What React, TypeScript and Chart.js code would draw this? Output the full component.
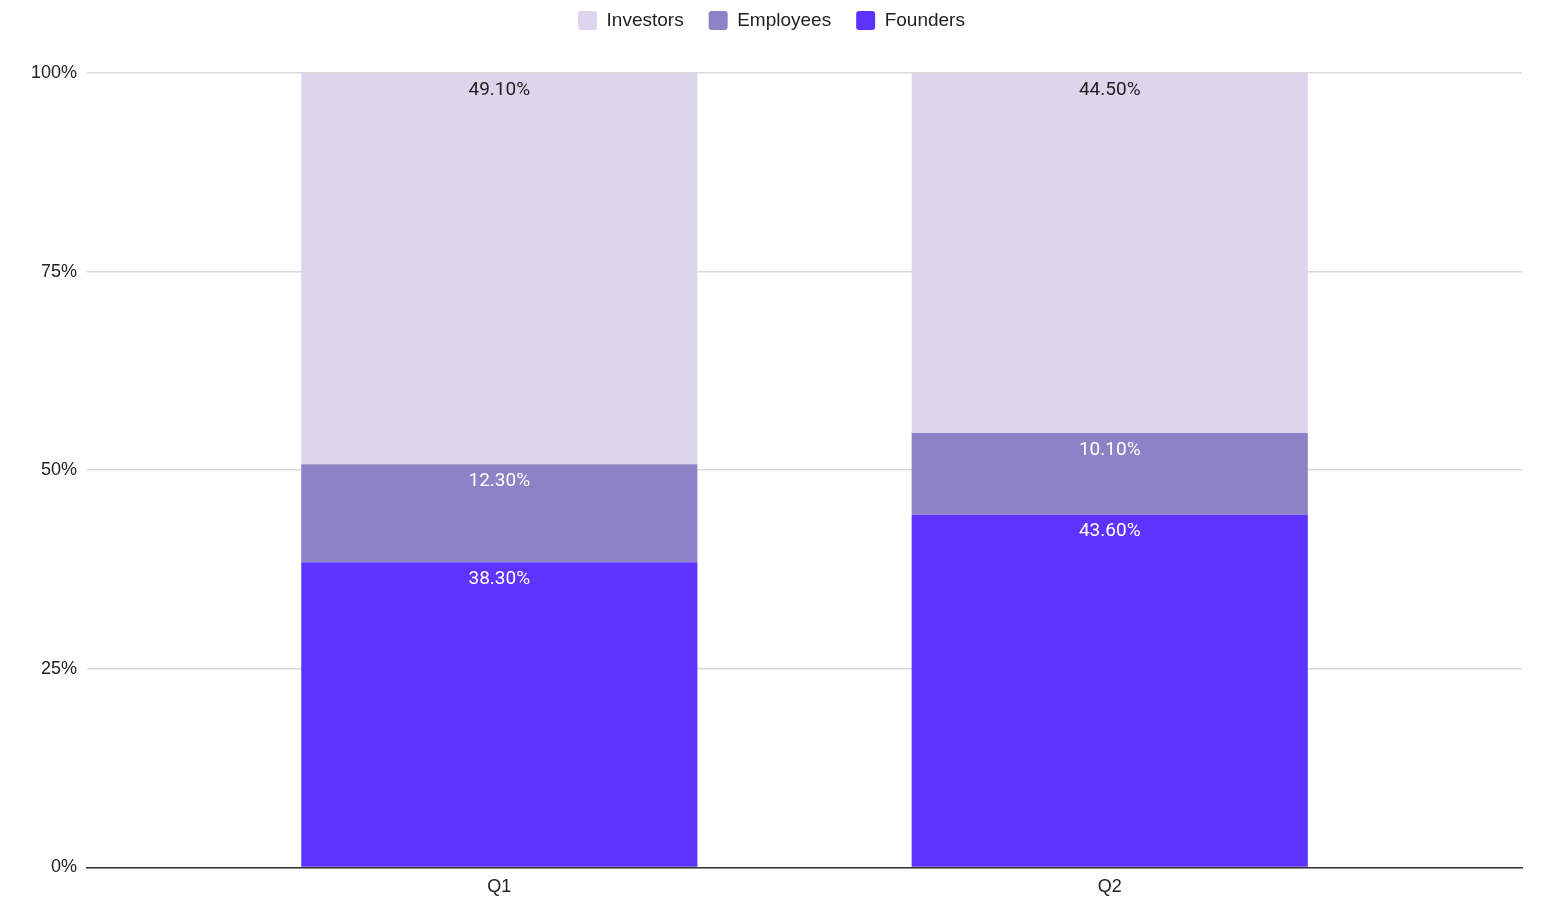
import React, { useEffect, useRef } from 'react'
import { Chart, registerables } from "chart.js";

Chart.register(...registerables);

const categories = ["Q1", "Q2"];
const founders = [38.3, 43.6];
const employees = [12.3, 10.1];
const investors = [49.1, 44.5];
const yTicks = [0, 25, 50, 75, 100];

const seriesNames = ["Founders", "Employees", "Investors"];
const seriesValues = [founders, employees, investors];
const seriesColors = ["#5f33ff", "#8e82c6", "#dcd5ec"];
const labelColors = ["#ffffff", "#ffffff", "#222222"];

const totals = categories.map((_, i) => seriesValues.reduce((s, v) => s + v[i], 0));

const axisFont = { family: "'Liberation Sans', Arial, sans-serif", size: 18 };
const legendFont = { family: "'Liberation Sans', Arial, sans-serif", size: 19 };

// labels at the top of each segment, showing the raw share
const segmentLabels = {
    id: "segmentLabels",
    afterDatasetsDraw(chart: Chart) {
        const ctx = chart.ctx;
        ctx.save();
        ctx.font = "19px Roboto, sans-serif";
        ctx.textAlign = "center";
        ctx.textBaseline = "middle";
        chart.data.datasets.forEach((ds: any, di: number) => {
            const meta = chart.getDatasetMeta(di);
            meta.data.forEach((bar: any, i: number) => {
                ctx.fillStyle = labelColors[di];
                ctx.fillText(ds.rawValues[i].toFixed(2) + "%", bar.x, bar.y + 17);
            });
        });
        ctx.restore();
    },
};

// push the plot area down below the legend
const legendSpace = {
    id: "legendSpace",
    beforeInit(chart: any) {
        const fit = chart.legend.fit;
        chart.legend.fit = function () {
            fit.bind(chart.legend)();
            this.height += 33;
        };
    },
};

const StackedShare: React.FC = () => {
    const chartRef = useRef<HTMLCanvasElement | null>(null);
    const chartInstance = useRef<Chart | null>(null);

    useEffect(() => {
        const ctx = chartRef.current?.getContext("2d");
        if (!ctx) return;

        chartInstance.current = new Chart(ctx, {
            type: "bar",
            data: {
                datasets: seriesNames.map((name, di) => ({
                    label: name,
                    rawValues: seriesValues[di],
                    data: categories.map((_, i) => ({ x: i, y: (seriesValues[di][i] / totals[i]) * 100 })),
                    backgroundColor: seriesColors[di],
                    categoryPercentage: 1,
                    barPercentage: 0.649,
                })) as any,
            },
            options: {
                animation: false,
                responsive: true,
                maintainAspectRatio: false,
                layout: { padding: { top: -14, right: 30, bottom: 19, left: 21 } },
                plugins: {
                    legend: {
                        position: "top",
                        reverse: true,
                        labels: {
                            boxWidth: 19,
                            boxHeight: 19,
                            useBorderRadius: true,
                            borderRadius: 3,
                            padding: 25,
                            color: "#222",
                            font: legendFont,
                        },
                    },
                    tooltip: { enabled: false },
                },
                scales: {
                    x: {
                        type: "linear",
                        stacked: true,
                        offset: false,
                        min: -0.6754,
                        max: categories.length - 1 + 0.6754,
                        afterBuildTicks: (scale: any) => {
                            scale.ticks = categories.map((_, i) => ({ value: i }));
                        },
                        ticks: {
                            callback: (value: any) => categories[value] ?? "",
                            color: "#222",
                            font: axisFont,
                            padding: 1,
                            maxRotation: 0,
                        },
                        grid: { display: false, offset: false },
                        border: { display: true, color: "#333", width: 1.5 },
                    },
                    y: {
                        stacked: true,
                        min: 0,
                        max: 100,
                        afterBuildTicks: (scale: any) => {
                            scale.ticks = yTicks.map((v) => ({ value: v }));
                        },
                        ticks: {
                            callback: (value: any) => `${value}%`,
                            color: "#222",
                            font: axisFont,
                            padding: 10,
                        },
                        grid: {
                            color: "#d9d9d9",
                            lineWidth: 1.5,
                            drawTicks: false,
                        },
                        border: { display: false },
                    },
                },
            },
            plugins: [segmentLabels, legendSpace],
        });

        return () => {
            if (chartInstance.current) {
                chartInstance.current.destroy();
            }
        };
    }, []);

    return (
        <div style={{ position: "absolute", left: 0, top: 0, width: 1552, height: 918, background: "#fff" }}>
            <canvas ref={chartRef}></canvas>
        </div>
    );
}

export default function App() {
    return <StackedShare />;
}
